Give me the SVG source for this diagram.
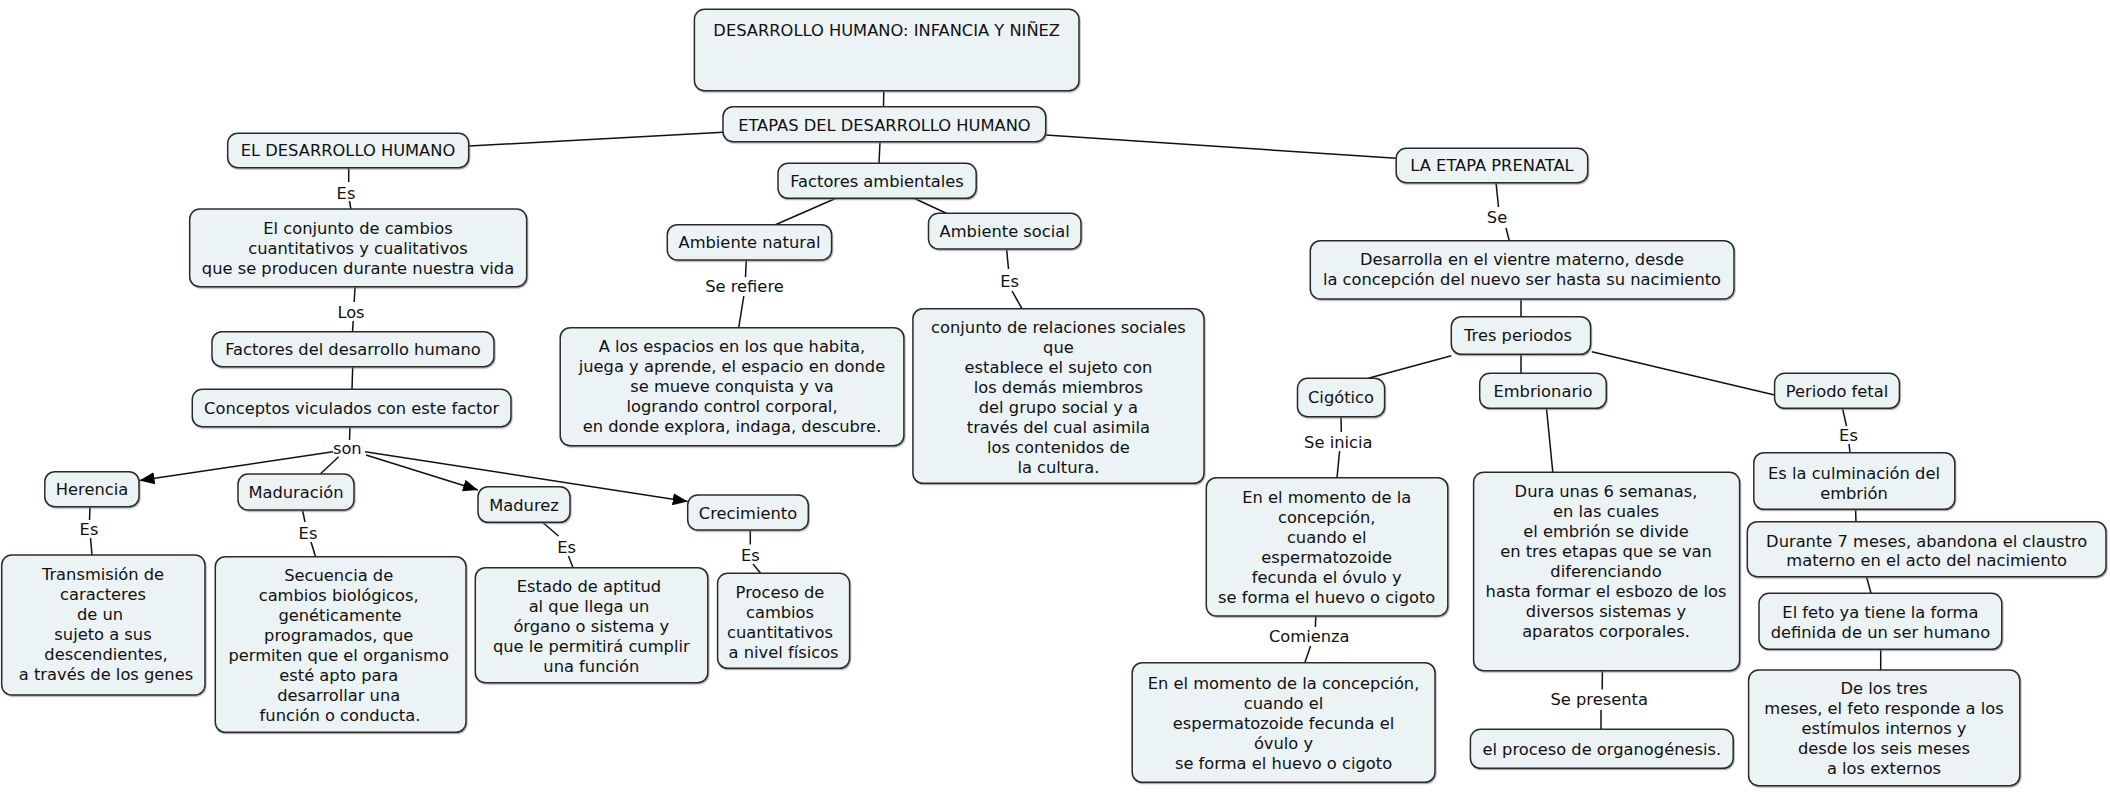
<svg xmlns="http://www.w3.org/2000/svg" width="2110" height="795" viewBox="0 0 2110 795">
<style>
.n rect{fill:#ecf3f5;stroke:#2b2b2b;stroke-width:1.5;filter:url(#sh)}
text{font-family:"DejaVu Sans",Verdana,sans-serif;font-size:16.3px;fill:#111;text-anchor:middle}
.c line{stroke:#111;stroke-width:1.5}
.c .a{marker-end:url(#ar)}
</style>
<defs>
<filter id="sh" x="-5%" y="-5%" width="110%" height="115%"><feDropShadow dx="0.8" dy="1.2" stdDeviation="0.6" flood-color="#777" flood-opacity="0.6"/></filter>
<marker id="ar" viewBox="0 0 15 12" refX="15" refY="6" markerWidth="15" markerHeight="12" markerUnits="userSpaceOnUse" orient="auto"><path d="M0,0 L15,6 L0,12 z" fill="#000"/></marker>
</defs>
<g class="c" id="connectors">
<line x1="883.8" y1="90.7" x2="883.5" y2="106.7"/>
<line x1="723" y1="132.3" x2="469" y2="146"/>
<line x1="1045.7" y1="135" x2="1396.2" y2="158.3"/>
<line x1="880" y1="141.7" x2="879" y2="163.3"/>
<line x1="836" y1="198.3" x2="775.4" y2="224.7"/>
<line x1="914" y1="198.3" x2="946.3" y2="213.3"/>
<line x1="746.3" y1="260" x2="745.5" y2="277"/>
<line x1="743.8" y1="296" x2="738.75" y2="327.7"/>
<line x1="1006.6" y1="249" x2="1008.5" y2="269"/>
<line x1="1012" y1="291" x2="1022" y2="308.7"/>
<line x1="348.7" y1="167.7" x2="348.7" y2="182"/>
<line x1="349.5" y1="201" x2="350.9" y2="209"/>
<line x1="355" y1="286.7" x2="354.2" y2="302"/>
<line x1="353.2" y1="321" x2="352.5" y2="331.7"/>
<line x1="352.7" y1="366.7" x2="352" y2="389.3"/>
<line x1="350" y1="426.7" x2="349.5" y2="440"/>
<line class="a" x1="333" y1="451.7" x2="139.5" y2="480.5"/>
<line x1="338.7" y1="456.7" x2="320.3" y2="474"/>
<line class="a" x1="366" y1="455" x2="478" y2="490"/>
<line class="a" x1="365" y1="451.7" x2="687.7" y2="501.5"/>
<line x1="90" y1="506.7" x2="89.5" y2="520"/>
<line x1="90.5" y1="538" x2="92" y2="555"/>
<line x1="302.5" y1="510" x2="305" y2="522"/>
<line x1="311" y1="542" x2="315.6" y2="556.7"/>
<line x1="542.5" y1="522.3" x2="558.5" y2="536"/>
<line x1="568.5" y1="556" x2="573" y2="567.7"/>
<line x1="750.3" y1="530" x2="750.3" y2="544.5"/>
<line x1="753" y1="564" x2="760.6" y2="573.3"/>
<line x1="1496" y1="182.7" x2="1498.5" y2="207"/>
<line x1="1506" y1="228" x2="1509.3" y2="240.7"/>
<line x1="1521" y1="299" x2="1521" y2="316.7"/>
<line x1="1451.3" y1="355.7" x2="1368.3" y2="378.3"/>
<line x1="1521" y1="354.3" x2="1521" y2="373.3"/>
<line x1="1591.8" y1="351.7" x2="1774.6" y2="395"/>
<line x1="1341" y1="416.7" x2="1341.3" y2="432"/>
<line x1="1339.6" y1="451" x2="1337" y2="477.7"/>
<line x1="1315.8" y1="616" x2="1315.4" y2="627"/>
<line x1="1310.6" y1="646" x2="1304.8" y2="662.7"/>
<line x1="1546.5" y1="408.3" x2="1552.8" y2="472.3"/>
<line x1="1602.4" y1="670.7" x2="1602.2" y2="689.5"/>
<line x1="1601" y1="710" x2="1601" y2="729.3"/>
<line x1="1842.5" y1="408.3" x2="1846.5" y2="426"/>
<line x1="1849" y1="444" x2="1850" y2="452.7"/>
<line x1="1855.6" y1="509.3" x2="1856" y2="521.7"/>
<line x1="1866.5" y1="576.7" x2="1871" y2="593.3"/>
<line x1="1880.7" y1="649.3" x2="1880.7" y2="670"/>
</g>
<g id="labels">
<text x="744.5" y="292">Se refiere</text>
<text x="1009.7" y="286.5">Es</text>
<text x="346" y="198.5">Es</text>
<text x="351" y="317.5">Los</text>
<text x="347.3" y="454">son</text>
<text x="89" y="535">Es</text>
<text x="308" y="539">Es</text>
<text x="566.6" y="552.5">Es</text>
<text x="750.3" y="561">Es</text>
<text x="1497" y="223">Se</text>
<text x="1338.3" y="447.5">Se inicia</text>
<text x="1309.3" y="642">Comienza</text>
<text x="1599.2" y="705">Se presenta</text>
<text x="1848.5" y="441">Es</text>
</g>
<g class="n" id="n-top"><rect x="694.4" y="9.3" width="384.6" height="81.4" rx="10"/><text x="886.7" y="36">DESARROLLO HUMANO: INFANCIA Y NIÑEZ</text></g>
<g class="n" id="n-etapas"><rect x="723" y="106.7" width="322.7" height="35" rx="10"/><text x="884.4" y="130.5">ETAPAS DEL DESARROLLO HUMANO</text></g>
<g class="n" id="n-eldh"><rect x="227.7" y="133.3" width="241" height="34.4" rx="10"/><text x="348" y="156.3">EL DESARROLLO HUMANO</text></g>
<g class="n" id="n-prenatal"><rect x="1396.2" y="148.3" width="191.5" height="34.4" rx="10"/><text x="1492" y="171.3">LA ETAPA PRENATAL</text></g>
<g class="n" id="n-factamb"><rect x="778" y="163.3" width="198.2" height="35" rx="10"/><text x="877" y="186.8">Factores ambientales</text></g>
<g class="n" id="n-ambnat"><rect x="667.3" y="224.7" width="164.3" height="35.3" rx="10"/><text x="749.5" y="248.3">Ambiente natural</text></g>
<g class="n" id="n-ambsoc"><rect x="928.5" y="213.3" width="152.5" height="35.7" rx="10"/><text x="1004.7" y="237.2">Ambiente social</text></g>
<g class="n" id="n-conjunto"><rect x="189.7" y="209" width="337" height="77.7" rx="10"/><text x="358"><tspan x="358" y="234">El conjunto de cambios</tspan><tspan x="358" y="254">cuantitativos y cualitativos</tspan><tspan x="358" y="274">que se producen durante nuestra vida</tspan></text></g>
<g class="n" id="n-factdh"><rect x="212" y="331.7" width="282" height="35" rx="10"/><text x="353" y="355.2">Factores del desarrollo humano</text></g>
<g class="n" id="n-conceptos"><rect x="192.3" y="389.3" width="318.7" height="37.4" rx="10"/><text x="351.6" y="413.5">Conceptos viculados con este factor</text></g>
<g class="n" id="n-alos"><rect x="560.2" y="327.7" width="343.7" height="118" rx="10"/><text x="732"><tspan x="732" y="352">A los espacios en los que habita,</tspan><tspan x="732" y="372">juega y aprende, el espacio en donde</tspan><tspan x="732" y="392">se mueve conquista y va</tspan><tspan x="732" y="412">logrando control corporal,</tspan><tspan x="732" y="432">en donde explora, indaga, descubre.</tspan></text></g>
<g class="n" id="n-relsoc"><rect x="912.9" y="308.7" width="291.1" height="174.6" rx="10"/><text x="1058.4"><tspan x="1058.4" y="332.7">conjunto de relaciones sociales</tspan><tspan x="1058.4" y="352.7">que</tspan><tspan x="1058.4" y="372.7">establece el sujeto con</tspan><tspan x="1058.4" y="392.7">los demás miembros</tspan><tspan x="1058.4" y="412.7">del grupo social y a</tspan><tspan x="1058.4" y="432.7">través del cual asimila</tspan><tspan x="1058.4" y="452.7">los contenidos de</tspan><tspan x="1058.4" y="472.7">la cultura.</tspan></text></g>
<g class="n" id="n-desarrolla"><rect x="1310.3" y="240.7" width="423.7" height="58.3" rx="10"/><text x="1522"><tspan x="1522" y="265">Desarrolla en el vientre materno, desde</tspan><tspan x="1522" y="285">la concepción del nuevo ser hasta su nacimiento</tspan></text></g>
<g class="n" id="n-tres"><rect x="1451.3" y="316.7" width="139.3" height="37.6" rx="10"/><text x="1518" y="340.5">Tres periodos</text></g>
<g class="n" id="n-cigotico"><rect x="1297.5" y="378.3" width="87.1" height="38.4" rx="10"/><text x="1341" y="403">Cigótico</text></g>
<g class="n" id="n-embrionario"><rect x="1479.7" y="373.3" width="126.6" height="35" rx="10"/><text x="1543" y="396.8">Embrionario</text></g>
<g class="n" id="n-fetal"><rect x="1774.6" y="373.3" width="124.8" height="35" rx="10"/><text x="1837" y="396.8">Periodo fetal</text></g>
<g class="n" id="n-herencia"><rect x="44.8" y="471.7" width="94.2" height="35" rx="10"/><text x="92" y="495.2">Herencia</text></g>
<g class="n" id="n-maduracion"><rect x="238" y="474" width="116" height="36" rx="10"/><text x="296" y="498">Maduración</text></g>
<g class="n" id="n-madurez"><rect x="478" y="486.7" width="92" height="35.6" rx="10"/><text x="524" y="510.5">Madurez</text></g>
<g class="n" id="n-crecimiento"><rect x="687.7" y="495" width="120.6" height="35" rx="10"/><text x="748" y="518.5">Crecimiento</text></g>
<g class="n" id="n-transmision"><rect x="1.7" y="555" width="203.3" height="140" rx="10"/><text x="103"><tspan x="103" y="580">Transmisión de</tspan><tspan x="103" y="600">caracteres</tspan><tspan x="100" y="620">de un</tspan><tspan x="103" y="640">sujeto a sus</tspan><tspan x="106" y="660">descendientes,</tspan><tspan x="106" y="680">a través de los genes</tspan></text></g>
<g class="n" id="n-secuencia"><rect x="215.3" y="556.7" width="250.7" height="175.6" rx="10"/><text x="338.7"><tspan x="338.7" y="580.5">Secuencia de</tspan><tspan x="338.7" y="600.5">cambios biológicos,</tspan><tspan x="340" y="620.5">genéticamente</tspan><tspan x="338.7" y="640.5">programados, que</tspan><tspan x="338.7" y="660.5">permiten que el organismo</tspan><tspan x="338.7" y="680.5">esté apto para</tspan><tspan x="338.7" y="700.5">desarrollar una</tspan><tspan x="340" y="720.5">función o conducta.</tspan></text></g>
<g class="n" id="n-estado"><rect x="475.3" y="567.7" width="232.5" height="115" rx="10"/><text x="591.3"><tspan x="589" y="591.7">Estado de aptitud</tspan><tspan x="589" y="611.7">al que llega un</tspan><tspan x="591.3" y="631.7">órgano o sistema y</tspan><tspan x="591.3" y="651.7">que le permitirá cumplir</tspan><tspan x="591.3" y="671.7">una función</tspan></text></g>
<g class="n" id="n-proceso"><rect x="717.6" y="573.3" width="132" height="95" rx="10"/><text x="783.6"><tspan x="780" y="597.7">Proceso de</tspan><tspan x="780" y="617.7">cambios</tspan><tspan x="780" y="637.7">cuantitativos</tspan><tspan x="783.6" y="657.7">a nivel físicos</tspan></text></g>
<g class="n" id="n-momento1"><rect x="1206.3" y="477.7" width="241.5" height="138.3" rx="10"/><text x="1326.7"><tspan x="1326.7" y="502.7">En el momento de la</tspan><tspan x="1326.7" y="522.7">concepción,</tspan><tspan x="1326.7" y="542.7">cuando el</tspan><tspan x="1326.7" y="562.7">espermatozoide</tspan><tspan x="1326.7" y="582.7">fecunda el óvulo y</tspan><tspan x="1326.7" y="602.7">se forma el huevo o cigoto</tspan></text></g>
<g class="n" id="n-momento2"><rect x="1132.2" y="662.7" width="302.8" height="119.6" rx="10"/><text x="1283.5"><tspan x="1283.5" y="689.3">En el momento de la concepción,</tspan><tspan x="1283.5" y="709.3">cuando el</tspan><tspan x="1283.5" y="729.3">espermatozoide fecunda el</tspan><tspan x="1283.5" y="749.3">óvulo y</tspan><tspan x="1283.5" y="769.3">se forma el huevo o cigoto</tspan></text></g>
<g class="n" id="n-dura"><rect x="1473.6" y="472.3" width="266" height="198.4" rx="10"/><text x="1606"><tspan x="1606" y="497">Dura unas 6 semanas,</tspan><tspan x="1606" y="517">en las cuales</tspan><tspan x="1606" y="537">el embrión se divide</tspan><tspan x="1606" y="557">en tres etapas que se van</tspan><tspan x="1606" y="577">diferenciando</tspan><tspan x="1606" y="597">hasta formar el esbozo de los</tspan><tspan x="1606" y="617">diversos sistemas y</tspan><tspan x="1606" y="637">aparatos corporales.</tspan></text></g>
<g class="n" id="n-organo"><rect x="1470.4" y="729.3" width="262.8" height="39" rx="10"/><text x="1601.8" y="755">el proceso de organogénesis.</text></g>
<g class="n" id="n-culminacion"><rect x="1753.8" y="452.7" width="201" height="56.6" rx="10"/><text x="1854"><tspan x="1854" y="478.7">Es la culminación del</tspan><tspan x="1854" y="498.7">embrión</tspan></text></g>
<g class="n" id="n-durante"><rect x="1747.3" y="521.7" width="358.7" height="55" rx="10"/><text x="1926.7"><tspan x="1926.7" y="546.5">Durante 7 meses, abandona el claustro</tspan><tspan x="1926.7" y="566">materno en el acto del nacimiento</tspan></text></g>
<g class="n" id="n-feto"><rect x="1759" y="593.3" width="242.8" height="56" rx="10"/><text x="1880.4"><tspan x="1880.4" y="618.3">El feto ya tiene la forma</tspan><tspan x="1880.4" y="637.7">definida de un ser humano</tspan></text></g>
<g class="n" id="n-detres"><rect x="1748.6" y="670" width="271.2" height="115.7" rx="10"/><text x="1884"><tspan x="1884" y="694.3">De los tres</tspan><tspan x="1884" y="714.3">meses, el feto responde a los</tspan><tspan x="1884" y="734.3">estímulos internos y</tspan><tspan x="1884" y="754.3">desde los seis meses</tspan><tspan x="1884" y="774.3">a los externos</tspan></text></g>
</svg>
